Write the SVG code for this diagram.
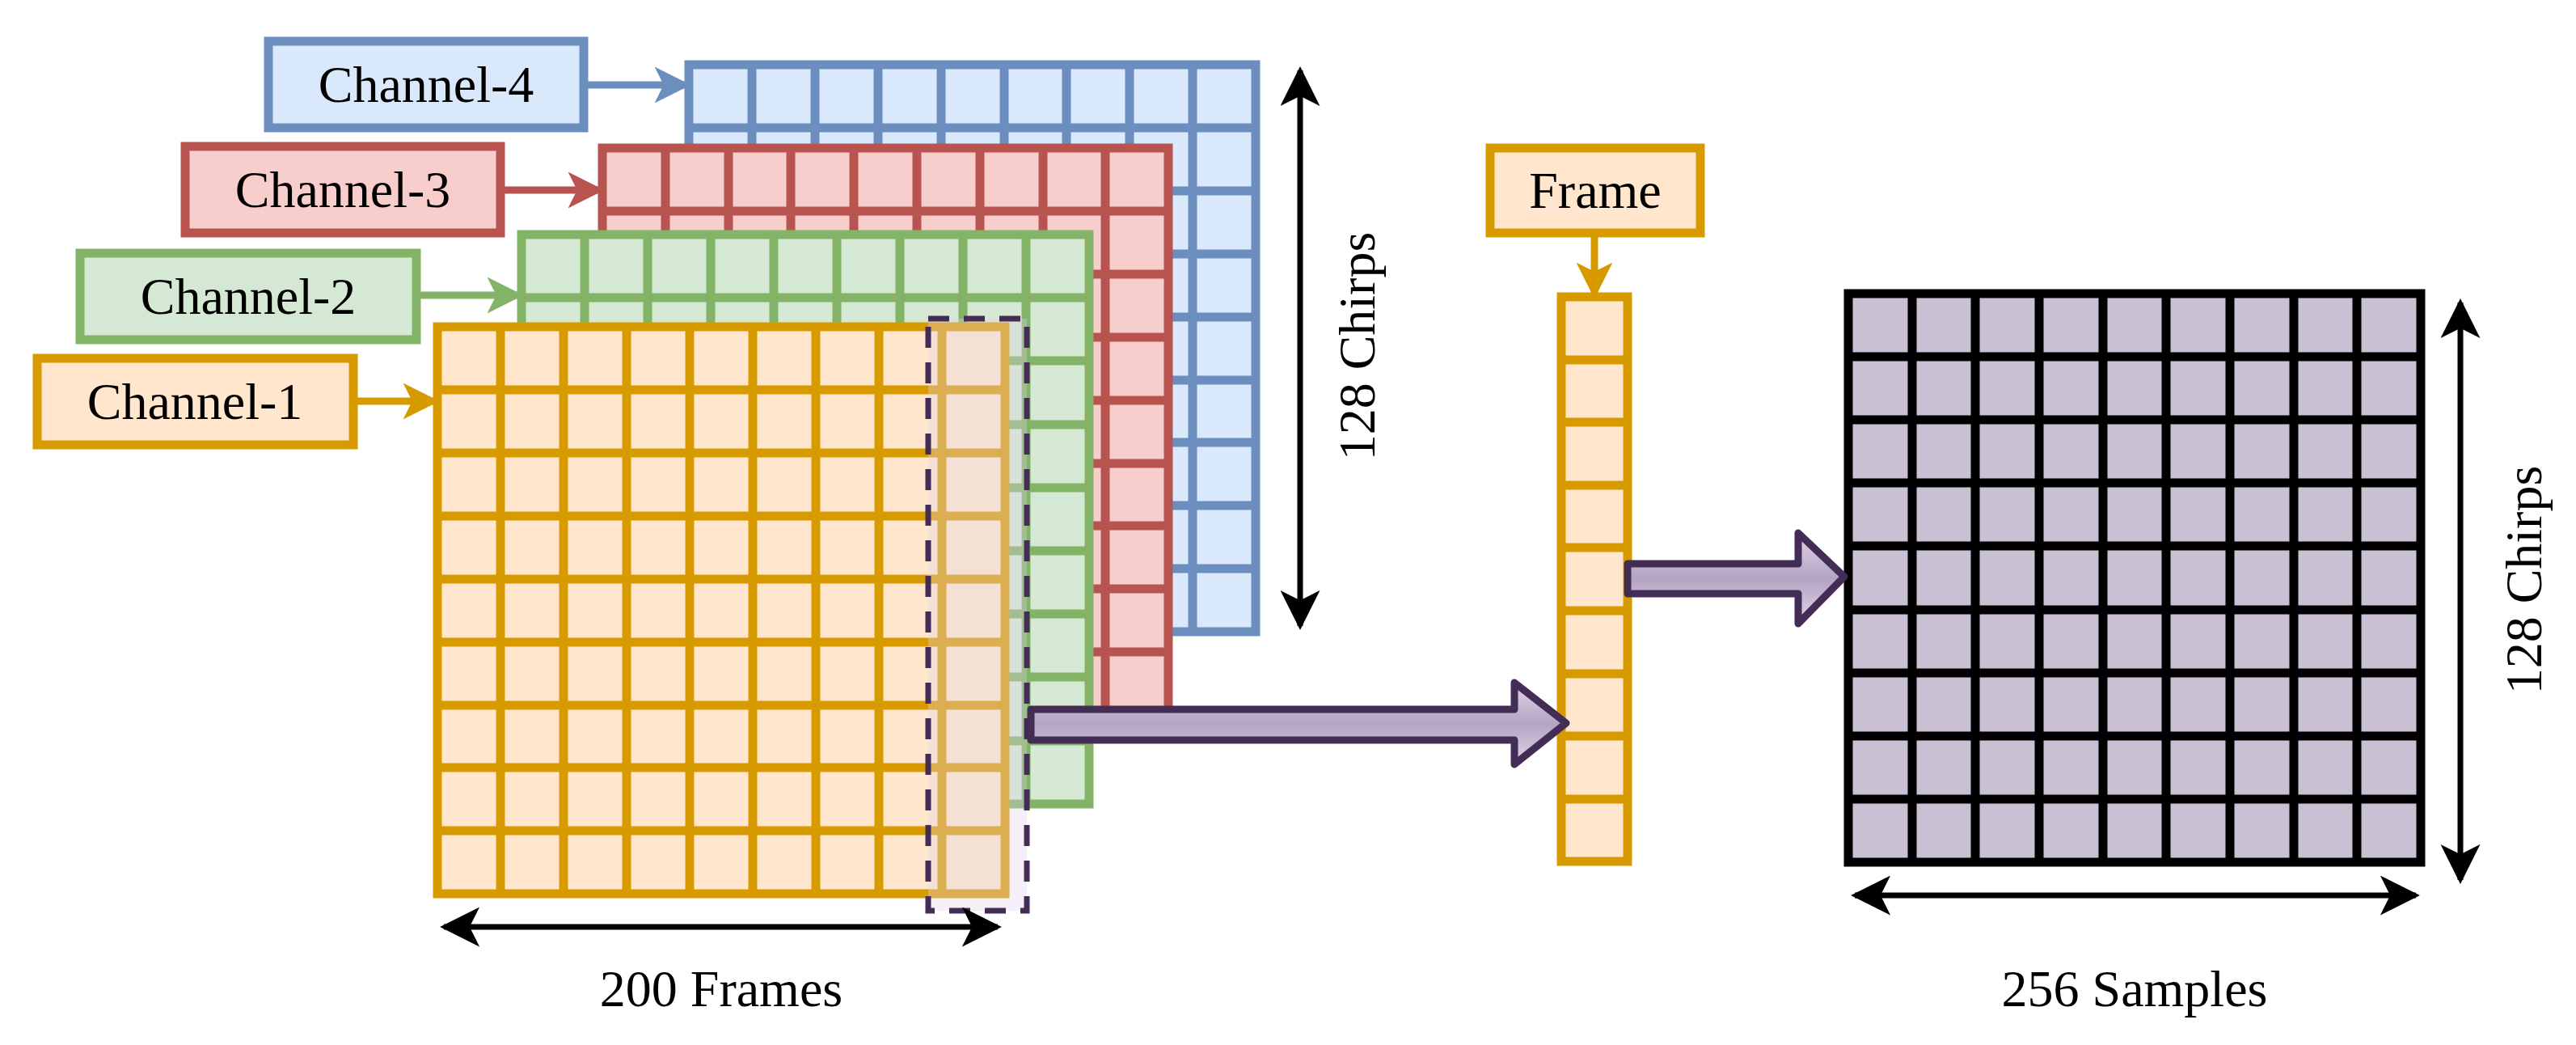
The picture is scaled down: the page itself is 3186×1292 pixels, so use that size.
<svg xmlns="http://www.w3.org/2000/svg" width="3186" height="1292" viewBox="0 0 3186 1292">
<style>
text{font-family:"Liberation Serif","Times New Roman",serif;font-size:64px;fill:#000}
.g{stroke-width:11;stroke-linejoin:miter}
.or{stroke:#d79b00;fill:#ffe6cc}.gr{stroke:#82b366;fill:#d5e8d4}.rd{stroke:#b85450;fill:#f8cecc}.bl{stroke:#6c8ebf;fill:#dae8fc}
.bk{stroke:#000;fill:#c9c1d3}
.ln{fill:none;stroke-width:11}
.dim{stroke:#000;stroke-width:7;fill:none;marker-start:url(#ah);marker-end:url(#ah)}
.fat{fill:url(#pg);stroke:#432d57;stroke-width:9;stroke-linejoin:round}
</style>
<defs>
<marker id="ah" viewBox="0 0 20 20" refX="18" refY="10" markerWidth="7" markerHeight="7" orient="auto-start-reverse" markerUnits="strokeWidth"><path d="M0,0 L20,10 L0,20 L5,10 Z" fill="#000"/></marker>
<marker id="ao" viewBox="0 0 20 20" refX="18" refY="10" markerWidth="5" markerHeight="5" orient="auto" markerUnits="strokeWidth"><path d="M0,0 L20,10 L0,20 L5,10 Z" fill="#d79b00"/></marker>
<marker id="ag" viewBox="0 0 20 20" refX="18" refY="10" markerWidth="5" markerHeight="5" orient="auto" markerUnits="strokeWidth"><path d="M0,0 L20,10 L0,20 L5,10 Z" fill="#82b366"/></marker>
<marker id="ar" viewBox="0 0 20 20" refX="18" refY="10" markerWidth="5" markerHeight="5" orient="auto" markerUnits="strokeWidth"><path d="M0,0 L20,10 L0,20 L5,10 Z" fill="#b85450"/></marker>
<marker id="ab" viewBox="0 0 20 20" refX="18" refY="10" markerWidth="5" markerHeight="5" orient="auto" markerUnits="strokeWidth"><path d="M0,0 L20,10 L0,20 L5,10 Z" fill="#6c8ebf"/></marker>
<linearGradient id="pg" x1="0" y1="0" x2="0" y2="1"><stop offset="0" stop-color="#e1d5e7"/><stop offset="0.5" stop-color="#b3a4c2"/><stop offset="1" stop-color="#e1d5e7"/></linearGradient>
</defs>

<g id="grid-ch4">
<rect class="g bl" x="852" y="80" width="701" height="701"/>
<path class="ln" stroke="#6c8ebf" d="M930,80V781M1008,80V781M1086,80V781M1164,80V781M1242,80V781M1319,80V781M1397,80V781M1475,80V781M852,158H1553M852,236H1553M852,314H1553M852,392H1553M852,470H1553M852,547H1553M852,625H1553M852,703H1553"/>
</g>
<g id="grid-ch3">
<rect class="g rd" x="745" y="183" width="700" height="699"/>
<path class="ln" stroke="#b85450" d="M823,183V882M901,183V882M978,183V882M1056,183V882M1134,183V882M1212,183V882M1290,183V882M1367,183V882M745,261H1445M745,339H1445M745,417H1445M745,495H1445M745,573H1445M745,650H1445M745,728H1445M745,806H1445"/>
</g>
<g id="grid-ch2">
<rect class="g gr" x="645" y="290" width="702" height="704"/>
<path class="ln" stroke="#82b366" d="M723,290V994M801,290V994M879,290V994M957,290V994M1035,290V994M1113,290V994M1191,290V994M1269,290V994M645,368H1347M645,446H1347M645,525H1347M645,603H1347M645,681H1347M645,759H1347M645,837H1347M645,916H1347"/>
</g>
<g id="grid-ch1">
<rect class="g or" x="541" y="404" width="702" height="701"/>
<path class="ln" stroke="#d79b00" d="M619,404V1105M697,404V1105M775,404V1105M853,404V1105M931,404V1105M1009,404V1105M1087,404V1105M1165,404V1105M541,482H1243M541,560H1243M541,638H1243M541,716H1243M541,794H1243M541,872H1243M541,949H1243M541,1027H1243"/>
</g>
<g id="selection">
<rect x="1148" y="394" width="122" height="732" fill="#e1d5e7" fill-opacity="0.35" stroke="#432d57" stroke-width="7" stroke-dasharray="26,18"/>
</g>

<g id="label-ch4"><rect class="g bl" x="332" y="51" width="390" height="107"/><text x="527" y="126" text-anchor="middle">Channel-4</text></g>
<g id="label-ch3"><rect class="g rd" x="229" y="181" width="390" height="107"/><text x="424" y="256" text-anchor="middle">Channel-3</text></g>
<g id="label-ch2"><rect class="g gr" x="99" y="313" width="416" height="107"/><text x="307" y="388" text-anchor="middle">Channel-2</text></g>
<g id="label-ch1"><rect class="g or" x="46" y="443" width="391" height="107"/><text x="241" y="518" text-anchor="middle">Channel-1</text></g>

<g id="frame-label"><rect class="g or" x="1843" y="183" width="260" height="105"/><text x="1973" y="257" text-anchor="middle">Frame</text></g>
<g id="frame-column">
<rect class="g or" x="1931" y="367" width="82" height="698"/>
<path class="ln" stroke="#d79b00" d="M1931,445H2013M1931,522H2013M1931,600H2013M1931,677H2013M1931,755H2013M1931,833H2013M1931,910H2013M1931,988H2013"/>
</g>
<g id="output-grid">
<rect class="g bk" x="2286" y="363" width="708" height="703"/>
<path class="ln" stroke="#000" d="M2365,363V1066M2443,363V1066M2522,363V1066M2601,363V1066M2679,363V1066M2758,363V1066M2837,363V1066M2915,363V1066M2286,441H2994M2286,519H2994M2286,597H2994M2286,675H2994M2286,754H2994M2286,832H2994M2286,910H2994M2286,988H2994"/>
</g>

<g id="connectors">
<path d="M722,105H850" stroke="#6c8ebf" stroke-width="9" marker-end="url(#ab)"/>
<path d="M619,235H743" stroke="#b85450" stroke-width="9" marker-end="url(#ar)"/>
<path d="M515,365H643" stroke="#82b366" stroke-width="9" marker-end="url(#ag)"/>
<path d="M437,496H539" stroke="#d79b00" stroke-width="9" marker-end="url(#ao)"/>
<path d="M1972,288V365" stroke="#d79b00" stroke-width="9" marker-end="url(#ao)"/>
<polygon class="fat" points="1275,877 1873,877 1873,844 1937,894 1873,945 1873,915 1275,915"/>
<polygon class="fat" points="2013,697 2224,697 2224,659 2281,713 2224,771 2224,734 2013,734"/>
<path class="dim" d="M1608,87V774"/>
<path class="dim" d="M549,1146H1234"/>
<path class="dim" d="M3043,374V1088"/>
<path class="dim" d="M2294,1107H2988"/>
</g>
<g id="dim-labels">
<text x="892" y="1244" text-anchor="middle">200 Frames</text>
<text x="2640" y="1244" text-anchor="middle">256 Samples</text>
<text transform="translate(1700,428) rotate(-90)" text-anchor="middle">128 Chirps</text>
<text transform="translate(3143,717) rotate(-90)" text-anchor="middle">128 Chirps</text>
</g>
</svg>
